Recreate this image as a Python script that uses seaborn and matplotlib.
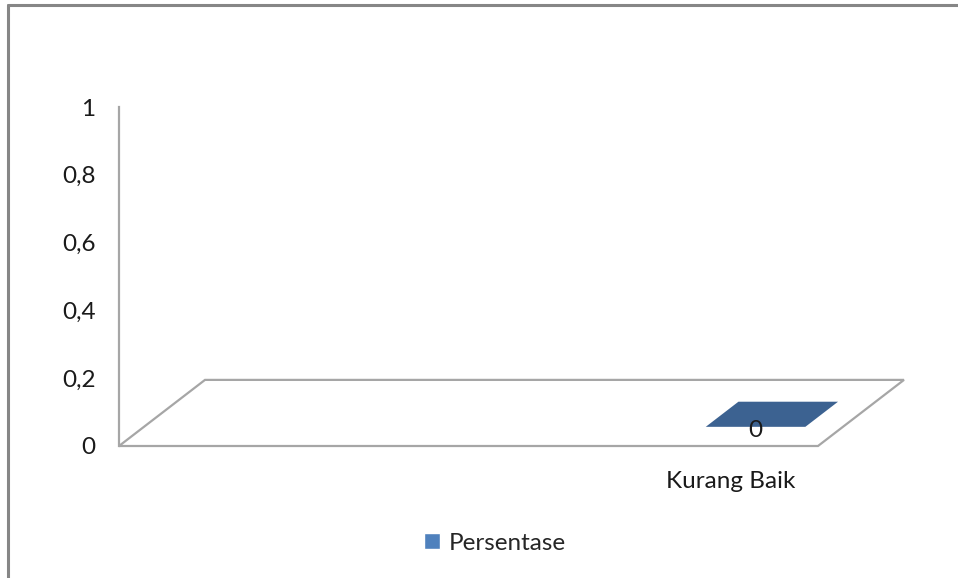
import matplotlib
matplotlib.use('Agg')
import matplotlib.pyplot as plt
import seaborn as sns
from matplotlib.patches import Polygon
from matplotlib.lines import Line2D

# Data
kategori = ['Kurang Baik']
persentase = [0]
seri = 'Persentase'
y_ticks = [0, 0.2, 0.4, 0.6, 0.8, 1]
y_labels = ['0', '0,2', '0,4', '0,6', '0,8', '1']

sns.set_style('white')
plt.rcParams['font.family'] = ['Lato', 'DejaVu Sans']

fig = plt.figure(figsize=(9.58, 5.78), dpi=100)
ax = fig.add_axes([119 / 958, 1 - 446 / 578, 699 / 958, 339 / 578])

sns.barplot(x=kategori, y=persentase, hue=[seri] * len(kategori),
            palette=['#4F81BD'], saturation=1, width=0.57, ax=ax, legend=True)

# 4 slot kategori seperti grafik aslinya
ax.set_xlim(-3.5, 0.5)
ax.set_ylim(0, 1)
ax.set_yticks(y_ticks)
ax.set_yticklabels(y_labels)
ax.tick_params(axis='both', length=0, labelsize=17.5, colors='#1a1a1a')
ax.tick_params(axis='y', pad=17)
ax.tick_params(axis='x', pad=18)
ax.set_xlabel('')
ax.set_ylabel('')
for s in ['top', 'right', 'bottom']:
    ax.spines[s].set_visible(False)
ax.spines['left'].set_color('#A6A6A6')
ax.spines['left'].set_linewidth(1.6)
ax.set_facecolor('none')

# lantai 3D
dx, dy = 0.492, 0.195
x0, x1 = ax.get_xlim()
lantai = Polygon([(x0, 0), (x1, 0), (x1 + dx, dy), (x0 + dx, dy)], closed=True,
                 fill=False, edgecolor='#A6A6A6', linewidth=1.6, clip_on=False)
ax.add_patch(lantai)

# sisi atas batang (bar 3D)
f0, f1 = 0.29, 0.67
for p, v in zip(ax.patches, persentase):
    bx, bw, h = p.get_x(), p.get_width(), p.get_height()
    top = Polygon([(bx + f0 * dx, h + f0 * dy), (bx + bw + f0 * dx, h + f0 * dy),
                   (bx + bw + f1 * dx, h + f1 * dy), (bx + f1 * dx, h + f1 * dy)],
                  closed=True, facecolor='#3C6291', edgecolor='none', clip_on=False, zorder=3)
    ax.add_patch(top)
    ax.text(bx + bw / 2 + f0 * dx, h + f0 * dy - 0.01, f'{v}', ha='center', va='center',
            fontsize=17.5, color='#1a1a1a', zorder=4)

leg = ax.legend(loc='center', bbox_to_anchor=(495 / 958, 1 - 543 / 578), bbox_transform=fig.transFigure,
                frameon=False, fontsize=17.5, handlelength=0.68, handleheight=0.68, handletextpad=0.35)

# bingkai grafik
fig.add_artist(Line2D([8 / 958, 1], [1 - 5 / 578, 1 - 5 / 578], color='#868686', linewidth=2.2))
fig.add_artist(Line2D([8 / 958, 8 / 958], [0, 1 - 5 / 578], color='#868686', linewidth=2.2))

plt.savefig('out.png', dpi=100)
